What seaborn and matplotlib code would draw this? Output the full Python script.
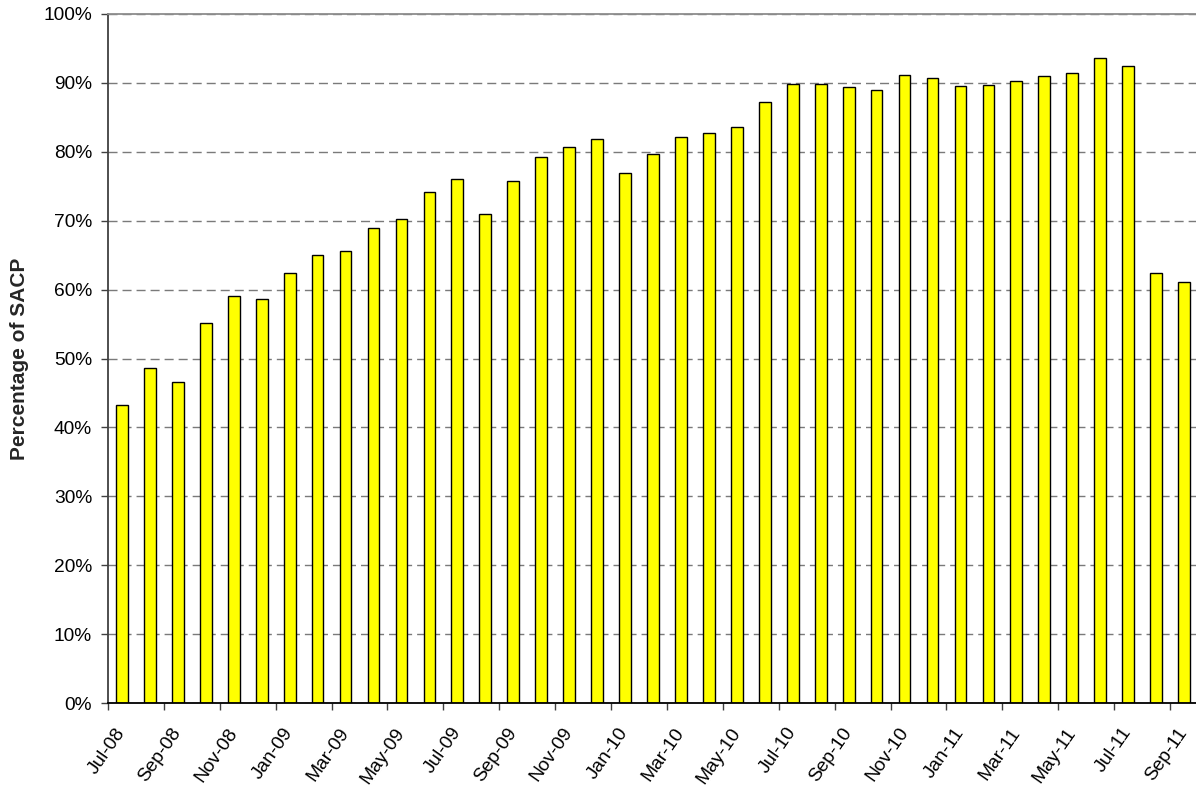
import matplotlib
matplotlib.use("Agg")
import matplotlib.pyplot as plt
from matplotlib.ticker import FixedLocator
import seaborn as sns
import pandas as pd

# Monthly share of SACP, Jul-08 through Sep-11
months = [
    "Jul-08", "Aug-08", "Sep-08", "Oct-08", "Nov-08", "Dec-08",
    "Jan-09", "Feb-09", "Mar-09", "Apr-09", "May-09", "Jun-09",
    "Jul-09", "Aug-09", "Sep-09", "Oct-09", "Nov-09", "Dec-09",
    "Jan-10", "Feb-10", "Mar-10", "Apr-10", "May-10", "Jun-10",
    "Jul-10", "Aug-10", "Sep-10", "Oct-10", "Nov-10", "Dec-10",
    "Jan-11", "Feb-11", "Mar-11", "Apr-11", "May-11", "Jun-11",
    "Jul-11", "Aug-11", "Sep-11",
]
pct_sacp = [
    43.3, 48.6, 46.6, 55.1, 59.0, 58.6,
    62.4, 65.0, 65.6, 69.0, 70.3, 74.1,
    76.1, 71.0, 75.8, 79.3, 80.7, 81.8,
    76.9, 79.7, 82.1, 82.8, 83.6, 87.3,
    89.8, 89.9, 89.4, 88.9, 91.2, 90.7,
    89.5, 89.7, 90.3, 91.0, 91.4, 93.6,
    92.4, 62.4, 61.1,
]
y_ticks = list(range(0, 101, 10))
y_tick_labels = [f"{v}%" for v in y_ticks]

df = pd.DataFrame({"month": months, "pct": pct_sacp})

sns.set_style("white")
plt.rcParams["font.family"] = ["Liberation Sans", "DejaVu Sans"]
plt.rcParams["lines.scale_dashes"] = False

W, H = 1196, 789
fig = plt.figure(figsize=(W / 100, H / 100), dpi=100)
ax = fig.add_axes([108 / W, 86 / H, 1090 / W, 689 / H])

sns.barplot(
    data=df, x="month", y="pct", order=months,
    color="#FFFF00", edgecolor="black", linewidth=1.0,
    width=0.42, saturation=1, ax=ax,
)

ax.set_xlim(-0.5, len(months) - 0.5)
ax.set_ylim(0, 100)

# y axis: percent ticks and dashed gridlines
ax.set_yticks(y_ticks)
ax.set_yticklabels(y_tick_labels, fontsize=13.8, color="black")
ax.set_axisbelow(True)
ax.yaxis.grid(True, color="#7a7a7a", linewidth=1.0, linestyle=(0, (6.5, 3.6)))
ax.xaxis.grid(False)
ax.tick_params(axis="y", direction="out", length=5, width=1, color="#404040", pad=6.5, left=True)

# x axis: a label on every other month, tick marks on category boundaries
ax.set_xticks(range(0, len(months), 2))
ax.set_xticklabels(months[::2], rotation=55, ha="right", va="center",
                   rotation_mode="anchor", fontsize=13.8, color="black")
ax.tick_params(axis="x", which="major", length=0, pad=19)
ax.xaxis.set_minor_locator(FixedLocator([i - 0.5 for i in range(0, len(months), 2)]))
ax.tick_params(axis="x", which="minor", direction="out", length=5, width=1,
               color="#404040", bottom=True)

ax.set_xlabel("")
ax.set_ylabel("Percentage of SACP", fontsize=15, fontweight="bold", labelpad=10)

for side in ("left", "bottom"):
    ax.spines[side].set_visible(True)
    ax.spines[side].set_color("#404040")
    ax.spines[side].set_linewidth(1.3)
ax.spines["bottom"].set_color("black")
ax.spines["top"].set_visible(True)
ax.spines["top"].set_color("#8c8c8c")
ax.spines["top"].set_linewidth(1.3)
ax.spines["right"].set_visible(False)

fig.savefig("out.png", dpi=100)
